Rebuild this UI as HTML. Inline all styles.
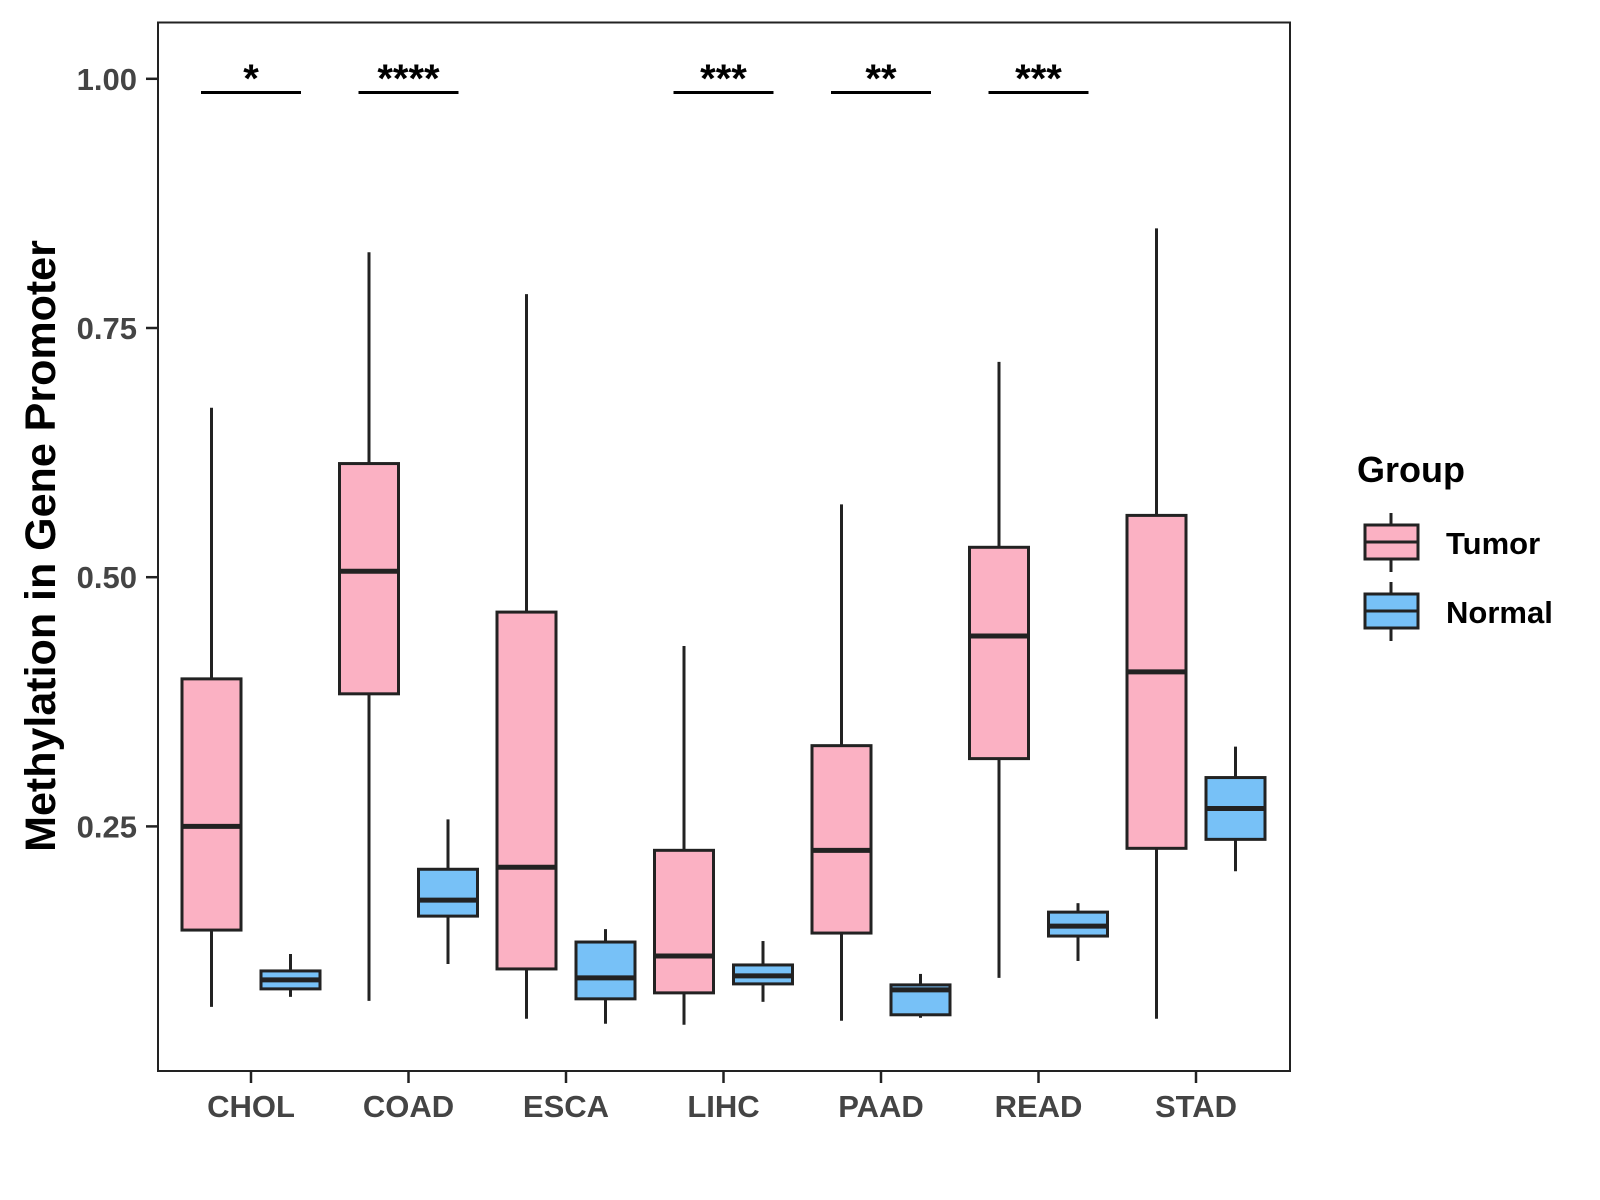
<!DOCTYPE html>
<html><head><meta charset="utf-8"><style>
html,body{margin:0;padding:0;background:#fff;}
svg{display:block;font-family:"Liberation Sans",Arial,sans-serif;}
</style></head><body>
<svg id="chart" width="1600" height="1200" viewBox="0 0 1600 1200">
<rect x="158" y="22.5" width="1132" height="1048.5" fill="#fff" stroke="#222" stroke-width="2"/>
<g id="marks"></g>
<text x="0" y="0" transform="translate(55,546) rotate(-90)" text-anchor="middle" font-size="43" font-weight="bold" fill="#000">Methylation in Gene Promoter</text>
<g>
<text x="1357" y="482" font-size="36" font-weight="bold" fill="#000">Group</text>
<g>
<line x1="1391" y1="513" x2="1391" y2="572" stroke="#222" stroke-width="3"/>
<rect x="1365" y="525" width="53" height="34" fill="#FBB1C3" stroke="#222" stroke-width="3"/>
<line x1="1365" y1="542" x2="1418" y2="542" stroke="#222" stroke-width="3"/>
<text x="1446" y="554" font-size="31" font-weight="bold" fill="#000">Tumor</text>
</g>
<g>
<line x1="1391" y1="582" x2="1391" y2="641" stroke="#222" stroke-width="3"/>
<rect x="1365" y="594" width="53" height="34" fill="#77C1F7" stroke="#222" stroke-width="3"/>
<line x1="1365" y1="611" x2="1418" y2="611" stroke="#222" stroke-width="3"/>
<text x="1446" y="623" font-size="31" font-weight="bold" fill="#000">Normal</text>
</g>
</g>
</svg>
<script>
const categories = ["CHOL","COAD","ESCA","LIHC","PAAD","READ","STAD"];
const tumorLow    = [0.069,0.075,0.057,0.051,0.055,0.098,0.057];
const tumorQ1     = [0.146,0.383,0.107,0.083,0.143,0.318,0.228];
const tumorMedian = [0.250,0.506,0.209,0.120,0.226,0.441,0.405];
const tumorQ3     = [0.398,0.614,0.465,0.226,0.331,0.530,0.562];
const tumorHigh   = [0.670,0.826,0.784,0.431,0.573,0.716,0.850];
const normalLow    = [0.079,0.112,0.052,0.074,0.058,0.115,0.205];
const normalQ1     = [0.087,0.160,0.077,0.092,0.061,0.140,0.237];
const normalMedian = [0.096,0.176,0.098,0.100,0.086,0.150,0.268];
const normalQ3     = [0.105,0.207,0.134,0.111,0.091,0.164,0.299];
const normalHigh   = [0.122,0.257,0.147,0.135,0.102,0.173,0.330];
const sigLabels = ["*","****","","***","**","***",""];
const yTicks = [0.25,0.50,0.75,1.00];
const yTickLabels = ["0.25","0.50","0.75","1.00"];

const NS="http://www.w3.org/2000/svg";
const g=document.getElementById('marks');
const svg=document.getElementById('chart');
function y(v){return 1075.6-v*996.8;}
function x(i){return 251+i*157.5;}
const bw=59, off=39.5;
function mk(tag,attrs,parent){const e=document.createElementNS(NS,tag);for(const k in attrs)e.setAttribute(k,attrs[k]);(parent||g).appendChild(e);return e;}

yTicks.forEach((t,i)=>{
  const tk=mk('line',{x1:146,x2:158,y1:y(t),y2:y(t),stroke:'#222','stroke-width':2.5},svg);
  
  
  const lb=mk('text',{x:137,y:y(t)+11,'text-anchor':'end','font-size':31,'font-weight':'bold',fill:'#444'},svg);
  lb.textContent=yTickLabels[i];
  
  
});
categories.forEach((c,i)=>{
  const tk=mk('line',{x1:x(i),x2:x(i),y1:1071,y2:1083,stroke:'#222','stroke-width':2.5},svg);
  
  
  const lb=mk('text',{x:x(i),y:1117,'text-anchor':'middle','font-size':31,'font-weight':'bold',fill:'#444'},svg);
  lb.textContent=c;
  
  
});
function box(cx,lo,q1,md,q3,hi,fill,name){
  const grp=mk('g',{});
  
  
  mk('line',{x1:cx,x2:cx,y1:y(hi),y2:y(lo),stroke:'#222','stroke-width':3},grp);
  mk('rect',{x:cx-bw/2,y:y(q3),width:bw,height:y(q1)-y(q3),fill:fill,stroke:'#222','stroke-width':3},grp);
  mk('line',{x1:cx-bw/2,x2:cx+bw/2,y1:y(md),y2:y(md),stroke:'#222','stroke-width':5},grp);
}
categories.forEach((c,i)=>{
  box(x(i)-off,tumorLow[i],tumorQ1[i],tumorMedian[i],tumorQ3[i],tumorHigh[i],'#FBB1C3','box-tumor-'+c.toLowerCase());
  box(x(i)+off,normalLow[i],normalQ1[i],normalMedian[i],normalQ3[i],normalHigh[i],'#77C1F7','box-normal-'+c.toLowerCase());
  if(sigLabels[i]){
    const l=mk('line',{x1:x(i)-50,x2:x(i)+50,y1:92.5,y2:92.5,stroke:'#000','stroke-width':3});
    
    
    const t=mk('text',{x:x(i),y:92,'text-anchor':'middle','font-size':40,'font-weight':'bold',fill:'#000'});
    t.textContent=sigLabels[i];
    
    
  }
});
</script>
</body></html>
